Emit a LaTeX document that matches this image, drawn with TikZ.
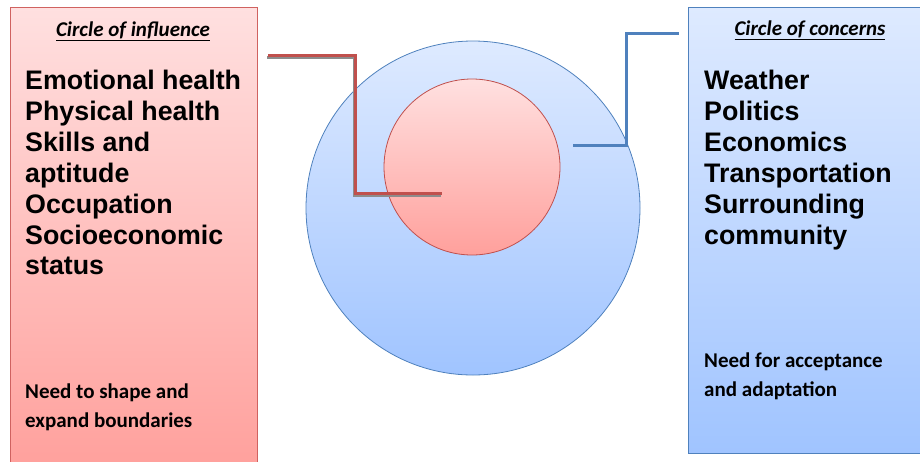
\documentclass[tikz,border=0pt]{standalone}
\usepackage{fontspec}
\setmainfont{Liberation Sans}
\newfontfamily\calib{Carlito}
\definecolor{pinkTop}{RGB}{255,224,224}
\definecolor{pinkBot}{RGB}{255,160,156}
\definecolor{blueTop}{RGB}{222,234,255}
\definecolor{blueBot}{RGB}{160,196,255}
\definecolor{redLine}{RGB}{192,80,77}
\definecolor{redEdge}{RGB}{208,98,96}
\definecolor{blueLine}{RGB}{79,129,189}
\begin{document}
\begin{tikzpicture}[x=1pt,y=-1pt,
  pinkfill/.style={top color=pinkTop,bottom color=pinkBot},
  bluefill/.style={top color=blueTop,bottom color=blueBot},
  listtext/.style={anchor=base west,inner sep=0pt,font=\fontsize{26.8}{30}\selectfont\bfseries},
  headtext/.style={anchor=base,inner sep=0pt,font=\calib\fontsize{21}{24}\selectfont\bfseries\itshape},
  notetext/.style={anchor=base west,inner sep=0pt,font=\calib\fontsize{21}{24}\selectfont\bfseries},
  redconn/.style={draw=redLine,line width=3pt},
  shadowconn/.style={draw=black!45,line width=3pt},
  blueconn/.style={draw=blueLine,line width=3pt}]
\useasboundingbox (0,0) rectangle (920,461);
\begin{scope}
\clip (0,0) rectangle (920,461);
% boxes
\path[pinkfill,draw=redEdge,line width=0.8pt] (10,7) rectangle (257,470);
\path[bluefill,draw=blueLine,line width=0.8pt] (688,7) rectangle (930,453);
% circles
\node (outer) [circle,minimum size=334pt,inner sep=0pt,bluefill,draw=blueLine,line width=0.8pt] at (473,208) {};
\node (inner) [circle,minimum size=176pt,inner sep=0pt,pinkfill,draw=redLine,line width=0.8pt] at (472,167) {};
% connectors
\coordinate (rs) at (268,55);
\coordinate (rk1) at (355,55);
\coordinate (rk2) at (355,193);
\coordinate (re) at (442,193);
\draw[shadowconn] ([shift={(-1,2)}]rs) -- ([shift={(-1,2)}]rk1) -- ([shift={(-1,2)}]rk2) -- ([shift={(-1,2)}]re);
\draw[redconn] (rs) -- (rk1) -- (rk2) -- (re);
\coordinate (bs) at (573,145);
\coordinate (bk1) at (626,145);
\coordinate (bk2) at (626,33);
\coordinate (be) at (679,33);
\draw[blueconn] (bs) -- (bk1) -- (bk2) -- (be);
% left texts
\node (lh) [headtext] at (133,36) {\underline{Circle of influence}};
\node (l1) [listtext] at (25,89) {Emotional health};
\node (l2) [listtext] at (25,120) {Physical health};
\node (l3) [listtext] at (25,151) {Skills and};
\node (l4) [listtext] at (25,182) {aptitude};
\node (l5) [listtext] at (25,213) {Occupation};
\node (l6) [listtext] at (25,244) {Socioeconomic};
\node (l7) [listtext] at (25,274) {status};
\node (ln1) [notetext] at (25,398) {Need to shape and};
\node (ln2) [notetext] at (25,427) {expand boundaries};
% right texts
\node (rh) [headtext] at (810,35) {\underline{Circle of concerns}};
\node (r1) [listtext] at (704,89) {Weather};
\node (r2) [listtext] at (704,120) {Politics};
\node (r3) [listtext] at (704,151) {Economics};
\node (r4) [listtext] at (704,182) {Transportation};
\node (r5) [listtext] at (704,213) {Surrounding};
\node (r6) [listtext] at (704,244) {community};
\node (rn1) [notetext] at (704,367) {Need for acceptance};
\node (rn2) [notetext] at (704,396) {and adaptation};
\end{scope}
\end{tikzpicture}
\end{document}
